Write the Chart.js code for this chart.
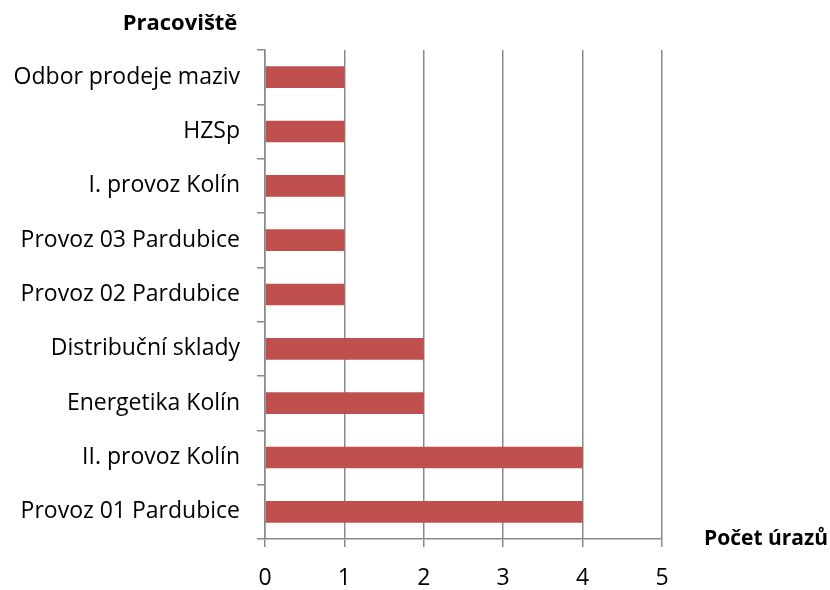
<!DOCTYPE html>
<html>
<head>
<meta charset="utf-8">
<script src="https://cdn.jsdelivr.net/npm/chart.js@4/dist/chart.umd.min.js"></script>
<style>
  html, body { margin: 0; padding: 0; background: #fff; }
  #wrap { width: 830px; height: 590px; position: relative; }
</style>
</head>
<body>
<div id="wrap"><canvas id="injury_bar"></canvas></div>
<script>
const workplaces = ['Odbor prodeje maziv', 'HZSp', 'I. provoz Kolín', 'Provoz 03 Pardubice', 'Provoz 02 Pardubice',
  'Distribuční sklady', 'Energetika Kolín', 'II. provoz Kolín', 'Provoz 01 Pardubice'];
const injuries = [1, 1, 1, 1, 1, 2, 2, 4, 4];
const countTicks = [0, 1, 2, 3, 4, 5];
const yTitle = 'Pracoviště';
const xTitle = 'Počet úrazů';

const FONT = '"Open Sans", sans-serif';

// draws the two axis titles where the original puts them
const axisTitles = {
  id: 'axisTitles',
  afterDraw(chart) {
    const c = chart.ctx;
    const area = chart.chartArea;
    c.save();
    c.fillStyle = '#000';
    c.font = 'bold 22px ' + FONT;
    c.textBaseline = 'middle';
    c.textAlign = 'center';
    c.fillText(yTitle, 180, 24);
    c.font = 'bold 21px ' + FONT;
    c.textAlign = 'left';
    c.fillText(xTitle, 704, area.bottom);
    c.restore();
  }
};

document.addEventListener('DOMContentLoaded', function() {
  const ctx = document.getElementById('injury_bar').getContext('2d');

  new Chart(ctx, {
    type: 'bar',
    data: {
      labels: workplaces,
      datasets: [{
        label: xTitle,
        data: injuries,
        backgroundColor: '#C0504D',
        borderWidth: 0,
        barPercentage: 0.4,
        categoryPercentage: 1.0
      }]
    },
    options: {
      indexAxis: 'y',
      responsive: true,
      maintainAspectRatio: false,
      animation: false,
      layout: { padding: { top: 50, right: 168, bottom: 0, left: 0 } },
      scales: {
        x: {
          min: 0,
          max: 5,
          afterBuildTicks: function(scale) {
            scale.ticks = countTicks.map(v => ({ value: v }));
          },
          afterFit: function(scale) { scale.height = 51; },
          border: { color: '#898989', width: 1.5 },
          grid: { color: '#898989', lineWidth: 1.5, tickLength: 8 },
          ticks: { color: '#000', font: { family: FONT, size: 23 }, padding: 18 }
        },
        y: {
          afterFit: function(scale) { scale.width = 265; },
          border: { color: '#898989', width: 1.5 },
          grid: { color: '#898989', lineWidth: 1.5, tickLength: 8, drawOnChartArea: false, offset: true },
          ticks: { color: '#000', font: { family: FONT, size: 23 }, padding: 17 }
        }
      },
      plugins: {
        legend: { display: false },
        tooltip: { enabled: false }
      }
    },
    plugins: [axisTitles]
  });
});
</script>
</body>
</html>
